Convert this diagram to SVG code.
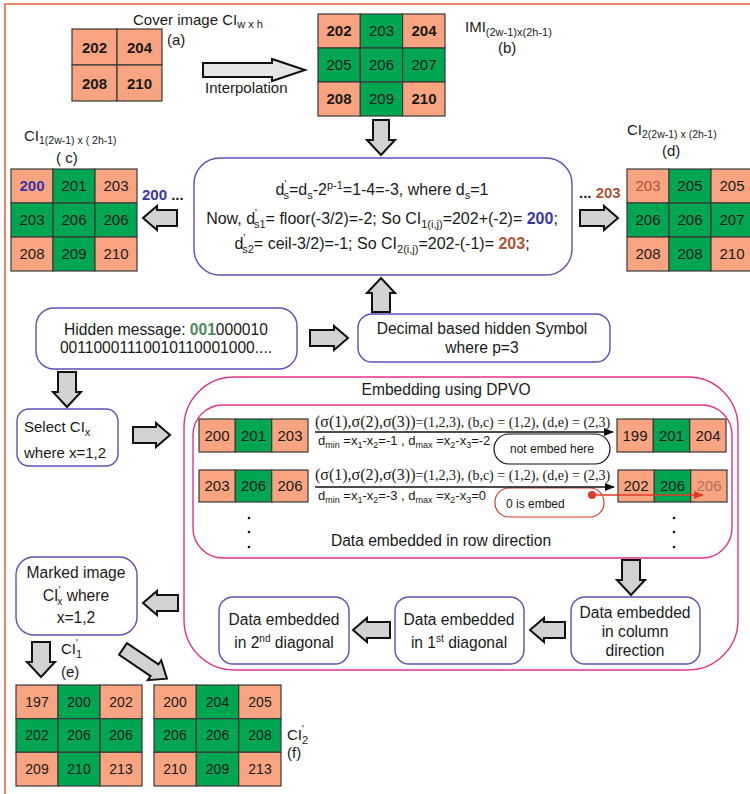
<svg xmlns="http://www.w3.org/2000/svg" width="750" height="794" viewBox="0 0 750 794">
<defs>
<style>
text{font-family:"Liberation Sans",Arial,sans-serif;fill:#1a1a1a}
.s{fill:#F9A480;stroke:#3a3a3a;stroke-width:1.2}
.g{fill:#00A651;stroke:#3a3a3a;stroke-width:1.2}
.c15{font-size:15px;text-anchor:middle}
.t{font-size:15.6px;text-anchor:middle}
.f{font-size:16px;text-anchor:middle}
.c14{font-size:14px;text-anchor:middle}
.b{font-weight:bold}
.lbl{font-size:15px}
.box{fill:#fff;stroke:#5B50B8;stroke-width:1.4}
.pink{fill:none;stroke:#E2338A;stroke-width:1.4}
.arr{fill:#D2D2D2;stroke:#111;stroke-width:2;stroke-linejoin:miter}
.ser{font-family:"Liberation Serif","Times New Roman",serif;font-size:14px}
.sm{font-size:13px}
.xs{font-size:12px}
.mid{text-anchor:middle}
</style>
<marker id="ab" viewBox="0 0 10 10" refX="9" refY="5" markerWidth="10" markerHeight="10" markerUnits="userSpaceOnUse" orient="auto"><path d="M0,1 L10,5 L0,9 z" fill="#111"/></marker>
<marker id="ar" viewBox="0 0 10 10" refX="9" refY="5" markerWidth="10" markerHeight="10" markerUnits="userSpaceOnUse" orient="auto"><path d="M0,1 L10,5 L0,9 z" fill="#E03A2A"/></marker>
</defs>
<rect width="750" height="794" fill="#fff"/>
<path d="M5,794 L5,4 L750,4" fill="none" stroke="#F08468" stroke-width="2"/>

<!-- (a) cover image -->
<g id="gridA">
<rect class="s" x="72" y="29" width="45" height="36"/><rect class="s" x="117" y="29" width="45" height="36"/>
<rect class="s" x="72" y="65" width="45" height="36"/><rect class="s" x="117" y="65" width="45" height="36"/>
<text class="c15 b" x="94.5" y="53">202</text><text class="c15 b" x="139.5" y="53">204</text>
<text class="c15 b" x="94.5" y="89">208</text><text class="c15 b" x="139.5" y="89">210</text>
<text class="lbl" x="133" y="25" font-size="16">Cover image CI<tspan font-size="11" dy="3">w x h</tspan></text>
<text class="lbl" x="167" y="45">(a)</text>
</g>

<!-- (b) IMI -->
<g id="gridB">
<rect class="s" x="318" y="14" width="42.3" height="34"/><rect class="g" x="360.3" y="14" width="42.3" height="34"/><rect class="s" x="402.6" y="14" width="42.4" height="34"/>
<rect class="g" x="318" y="48" width="42.3" height="34"/><rect class="g" x="360.3" y="48" width="42.3" height="34"/><rect class="g" x="402.6" y="48" width="42.4" height="34"/>
<rect class="s" x="318" y="82" width="42.3" height="34"/><rect class="g" x="360.3" y="82" width="42.3" height="34"/><rect class="s" x="402.6" y="82" width="42.4" height="34"/>
<text class="c15 b" x="339" y="36">202</text><text class="c15" x="381.5" y="36">203</text><text class="c15 b" x="424" y="36">204</text>
<text class="c15" x="339" y="70">205</text><text class="c15" x="381.5" y="70">206</text><text class="c15" x="424" y="70">207</text>
<text class="c15 b" x="339" y="104">208</text><text class="c15" x="381.5" y="104">209</text><text class="c15 b" x="424" y="104">210</text>
<text class="lbl" x="465" y="32" font-size="16">IMI<tspan font-size="11" dy="4">(2w-1)x(2h-1)</tspan></text>
<text class="lbl" x="498" y="53">(b)</text>
</g>

<!-- (c) -->
<g id="gridC">
<rect class="s" x="11" y="169" width="42" height="34"/><rect class="g" x="53" y="169" width="42" height="34"/><rect class="s" x="95" y="169" width="42" height="34"/>
<rect class="g" x="11" y="203" width="42" height="34"/><rect class="g" x="53" y="203" width="42" height="34"/><rect class="g" x="95" y="203" width="42" height="34"/>
<rect class="s" x="11" y="237" width="42" height="34"/><rect class="g" x="53" y="237" width="42" height="34"/><rect class="s" x="95" y="237" width="42" height="34"/>
<text class="c15 b" x="32" y="191" style="fill:#3B36A8">200</text><text class="c15" x="74" y="191">201</text><text class="c15" x="116" y="191">203</text>
<text class="c15" x="32" y="225">203</text><text class="c15" x="74" y="225">206</text><text class="c15" x="116" y="225">206</text>
<text class="c15" x="32" y="259">208</text><text class="c15" x="74" y="259">209</text><text class="c15" x="116" y="259">210</text>
<text class="lbl" x="24" y="141" font-size="16">CI<tspan font-size="10.5" dy="3">1(2w-1) x ( 2h-1)</tspan></text>
<text class="lbl" x="56" y="163">( c)</text>
</g>

<!-- (d) -->
<g id="gridD">
<rect class="s" x="627" y="169" width="42" height="34"/><rect class="g" x="669" y="169" width="42" height="34"/><rect class="s" x="711" y="169" width="42" height="34"/>
<rect class="g" x="627" y="203" width="42" height="34"/><rect class="g" x="669" y="203" width="42" height="34"/><rect class="g" x="711" y="203" width="42" height="34"/>
<rect class="s" x="627" y="237" width="42" height="34"/><rect class="g" x="669" y="237" width="42" height="34"/><rect class="s" x="711" y="237" width="42" height="34"/>
<text class="c15" x="648" y="191" style="fill:#A8553A">203</text><text class="c15" x="690" y="191">205</text><text class="c15" x="732" y="191">205</text>
<text class="c15" x="648" y="225">206</text><text class="c15" x="690" y="225">206</text><text class="c15" x="732" y="225">207</text>
<text class="c15" x="648" y="259">208</text><text class="c15" x="690" y="259">208</text><text class="c15" x="732" y="259">210</text>
<text class="lbl" x="627" y="135" font-size="16">CI<tspan font-size="10.5" dy="3">2(2w-1) x (2h-1)</tspan></text>
<text class="lbl" x="662" y="156">(d)</text>
</g>

<!-- formula box -->
<g id="formula">
<rect class="box" x="194" y="158" width="378" height="117" rx="26"/>
<text class="f" x="382" y="195">d<tspan font-size="10" dy="-7">'</tspan><tspan font-size="11" dx="-3" dy="11">s</tspan><tspan dy="-4">=d</tspan><tspan font-size="11" dy="4">s</tspan><tspan dy="-4">-2</tspan><tspan font-size="11" dy="-6">p-1</tspan><tspan dy="6">=1-4=-3, where  d</tspan><tspan font-size="11" dy="4">s</tspan><tspan dy="-4">=1</tspan></text>
<text class="f" x="382" y="224">Now, d<tspan font-size="10" dy="-7">'</tspan><tspan font-size="11" dx="-3" dy="11">s1</tspan><tspan dy="-4">= floor(-3/2)=-2; So  CI</tspan><tspan font-size="11" dy="4">1(i,j)</tspan><tspan dy="-4">=202+(-2)= </tspan><tspan font-weight="bold" style="fill:#3B36A8">200</tspan><tspan>;</tspan></text>
<text class="f" x="382" y="249">d<tspan font-size="10" dy="-7">'</tspan><tspan font-size="11" dx="-3" dy="11">s2</tspan><tspan dy="-4">= ceil-3/2)=-1; So  CI</tspan><tspan font-size="11" dy="4">2(i,j)</tspan><tspan dy="-4">=202-(-1)= </tspan><tspan font-weight="bold" style="fill:#A8553A">203</tspan><tspan>;</tspan></text>
</g>
<text class="lbl b" x="142" y="200" font-size="16" style="fill:#3B36A8">200<tspan style="fill:#222"> ...</tspan></text>
<text class="lbl b" x="579" y="198" font-size="16">... <tspan style="fill:#A8553A">203</tspan></text>

<!-- hidden message -->
<g id="hidden">
<rect class="box" x="36" y="308" width="261" height="61" rx="18"/>
<text class="t" x="166" y="335">Hidden message: <tspan font-weight="bold" style="fill:#4E8A55">001</tspan>000010</text>
<text class="t" x="166" y="353">00110001110010110001000....</text>
</g>

<g id="decimal">
<rect class="box" x="358" y="314" width="252" height="48" rx="14"/>
<text class="t" x="482" y="334">Decimal based hidden Symbol</text>
<text class="t" x="482" y="353">where p=3</text>
</g>

<g id="select">
<rect class="box" x="17" y="409" width="101" height="57" rx="12"/>
<text class="lbl" x="24" y="432" font-size="16">Select CI<tspan font-size="11" dy="4">x</tspan></text>
<text class="lbl" x="24" y="458" font-size="16">where x=1,2</text>
</g>

<!-- DPVO -->
<g id="dpvo">
<rect class="pink" x="184" y="377" width="554" height="293" rx="50"/>
<text class="t" x="446" y="395">Embedding using  DPVO</text>
<rect class="pink" x="193" y="405" width="539" height="153" rx="30"/>
<g id="row1">
<rect class="s" x="199" y="419" width="36.3" height="33"/><rect class="g" x="235.3" y="419" width="36.4" height="33"/><rect class="s" x="271.7" y="419" width="36.3" height="33"/>
<text class="c15" x="217" y="441">200</text><text class="c15" x="253.5" y="441">201</text><text class="c15" x="290" y="441">203</text>
<text class="ser" x="315" y="427"><tspan font-size="16">(σ(1),σ(2),σ(3))</tspan>=(1,2,3), (b,c) = (1,2), (d,e) = (2,3)</text>
<text class="sm" x="318" y="445">d<tspan font-size="9" dy="3">min</tspan><tspan dy="-3"> =x</tspan><tspan font-size="9" dy="3">1</tspan><tspan dy="-3">-x</tspan><tspan font-size="9" dy="3">2</tspan><tspan dy="-3">=-1 , d</tspan><tspan font-size="9" dy="3">max</tspan><tspan dy="-3"> =x</tspan><tspan font-size="9" dy="3">2</tspan><tspan dy="-3">-x</tspan><tspan font-size="9" dy="3">3</tspan><tspan dy="-3">=-2</tspan></text>
<rect x="494" y="434" width="116" height="30" rx="15" fill="#fff" stroke="#111" stroke-width="1.2"/>
<text class="xs mid" x="552" y="453">not embed here</text>
<rect class="s" x="617" y="419" width="36.3" height="33"/><rect class="g" x="653.3" y="419" width="36.4" height="33"/><rect class="s" x="689.7" y="419" width="36.3" height="33"/>
<text class="c15" x="635" y="441">199</text><text class="c15" x="671.5" y="441">201</text><text class="c15" x="708" y="441">204</text>
</g>
<g id="row2">
<rect class="s" x="199" y="470" width="36.3" height="32"/><rect class="g" x="235.3" y="470" width="36.4" height="32"/><rect class="s" x="271.7" y="470" width="36.3" height="32"/>
<text class="c15" x="217" y="491">203</text><text class="c15" x="253.5" y="491">206</text><text class="c15" x="290" y="491">206</text>
<text class="ser" x="315" y="480"><tspan font-size="16">(σ(1),σ(2),σ(3))</tspan>=(1,2,3), (b,c) = (1,2), (d,e) = (2,3)</text>
<text class="sm" x="318" y="500">d<tspan font-size="9" dy="3">min</tspan><tspan dy="-3"> =x</tspan><tspan font-size="9" dy="3">1</tspan><tspan dy="-3">-x</tspan><tspan font-size="9" dy="3">2</tspan><tspan dy="-3">=-3 , d</tspan><tspan font-size="9" dy="3">max</tspan><tspan dy="-3"> =x</tspan><tspan font-size="9" dy="3">2</tspan><tspan dy="-3">-x</tspan><tspan font-size="9" dy="3">3</tspan><tspan dy="-3">=0</tspan></text>
<rect x="495" y="488" width="109" height="29" rx="14" fill="#fff" stroke="#E03A2A" stroke-width="1.2"/>
<text class="xs" x="506" y="508">0 is embed</text>
<rect class="s" x="618" y="470" width="36.3" height="32"/><rect class="g" x="654.3" y="470" width="36.4" height="32"/><rect class="s" x="690.7" y="470" width="36.3" height="32"/>
<text class="c15" x="636" y="491">202</text><text class="c15" x="672.5" y="491">206</text><text class="c15" x="709" y="491" style="fill:#B0705A">206</text>
</g>
<g fill="#111"><circle cx="249" cy="518" r="1.3"/><circle cx="249" cy="532" r="1.3"/><circle cx="249" cy="547" r="1.3"/><circle cx="674" cy="518" r="1.3"/><circle cx="674" cy="532" r="1.3"/><circle cx="674" cy="547" r="1.3"/></g>
<text class="t" x="441" y="546">Data embedded in row  direction</text>
</g>

<g id="column">
<rect class="box" x="571" y="597" width="129" height="67" rx="14"/>
<text class="t" x="635" y="618">Data embedded</text>
<text class="t" x="635" y="637">in column</text>
<text class="t" x="635" y="656">direction</text>
</g>
<g id="diag1">
<rect class="box" x="395" y="597" width="129" height="67" rx="14"/>
<text class="t" x="459" y="625">Data embedded</text>
<text class="t" x="459" y="648">in 1<tspan font-size="10" dy="-6">st</tspan><tspan dy="6"> diagonal</tspan></text>
</g>
<g id="diag2">
<rect class="box" x="219" y="597" width="130" height="67" rx="14"/>
<text class="t" x="284" y="625">Data embedded</text>
<text class="t" x="284" y="648">in 2<tspan font-size="10" dy="-6">nd</tspan><tspan dy="6"> diagonal</tspan></text>
</g>

<g id="marked">
<rect class="box" x="16" y="557" width="121" height="78" rx="18"/>
<text class="t" x="76" y="578">Marked image</text>
<text class="t" x="76" y="601">CI<tspan font-size="10" dy="-7">'</tspan><tspan font-size="10" dx="-3" dy="11">x</tspan><tspan dy="-4"> where</tspan></text>
<text class="t" x="76" y="623">x=1,2</text>
</g>

<!-- (e) -->
<g id="gridE">
<rect class="s" x="16" y="685" width="42" height="33.7"/><rect class="g" x="58" y="685" width="42" height="33.7"/><rect class="s" x="100" y="685" width="42" height="33.7"/>
<rect class="g" x="16" y="718.7" width="42" height="33.6"/><rect class="g" x="58" y="718.7" width="42" height="33.6"/><rect class="g" x="100" y="718.7" width="42" height="33.6"/>
<rect class="s" x="16" y="752.3" width="42" height="33.7"/><rect class="g" x="58" y="752.3" width="42" height="33.7"/><rect class="s" x="100" y="752.3" width="42" height="33.7"/>
<text class="c14" x="37" y="707">197</text><text class="c14" x="79" y="707">200</text><text class="c14" x="121" y="707">202</text>
<text class="c14" x="37" y="740">202</text><text class="c14" x="79" y="740">206</text><text class="c14" x="121" y="740">206</text>
<text class="c14" x="37" y="774">209</text><text class="c14" x="79" y="774">210</text><text class="c14" x="121" y="774">213</text>
<text class="lbl" x="61" y="654">CI<tspan font-size="10" dy="-7">'</tspan><tspan font-size="11" dx="-2" dy="11">1</tspan></text>
<text class="lbl" x="61" y="677">(e)</text>
</g>

<!-- (f) -->
<g id="gridF">
<rect class="s" x="154" y="685" width="42.3" height="33.7"/><rect class="g" x="196.3" y="685" width="42.4" height="33.7"/><rect class="s" x="238.7" y="685" width="42.3" height="33.7"/>
<rect class="g" x="154" y="718.7" width="42.3" height="33.6"/><rect class="g" x="196.3" y="718.7" width="42.4" height="33.6"/><rect class="g" x="238.7" y="718.7" width="42.3" height="33.6"/>
<rect class="s" x="154" y="752.3" width="42.3" height="33.7"/><rect class="g" x="196.3" y="752.3" width="42.4" height="33.7"/><rect class="s" x="238.7" y="752.3" width="42.3" height="33.7"/>
<text class="c14" x="175" y="707">200</text><text class="c14" x="217.5" y="707">204</text><text class="c14" x="260" y="707">205</text>
<text class="c14" x="175" y="740">206</text><text class="c14" x="217.5" y="740">206</text><text class="c14" x="260" y="740">208</text>
<text class="c14" x="175" y="774">210</text><text class="c14" x="217.5" y="774">209</text><text class="c14" x="260" y="774">213</text>
<text class="lbl" x="287" y="740">CI<tspan font-size="10" dy="-7">'</tspan><tspan font-size="11" dx="-2" dy="11">2</tspan></text>
<text class="lbl" x="287" y="758">(f)</text>
</g>

<!-- connectors -->
<g id="connectors">
<path d="M203,63 L272,63 L272,59 L305,70 L272,81 L272,77 L203,77 Z" class="arr" style="fill:#E6E6E6"/>
<text class="lbl" x="205" y="93">Interpolation</text>
<path d="M373,120 L389,120 L389,140 L395,140 L381,155 L367,140 L373,140 Z" class="arr"/>
<path d="M177,210 L157,210 L157,206 L143,218 L157,230 L157,226 L177,226 Z" class="arr"/>
<path d="M580,210 L604,210 L604,206 L618,218 L604,230 L604,226 L580,226 Z" class="arr"/>
<path d="M372,312 L390,312 L390,293 L395,293 L381,278 L367,293 L372,293 Z" class="arr"/>
<path d="M310,330 L334,330 L334,326 L348,338 L334,350 L334,346 L310,346 Z" class="arr"/>
<path d="M58,372 L76,372 L76,392 L81,392 L67,407 L53,392 L58,392 Z" class="arr"/>
<path d="M133,427 L156,427 L156,423 L170,435 L156,447 L156,443 L133,443 Z" class="arr"/>
<path d="M622,560 L640,560 L640,580 L645,580 L631,595 L617,580 L622,580 Z" class="arr"/>
<path d="M565,622 L544,622 L544,618 L530,630 L544,642 L544,638 L565,638 Z" class="arr"/>
<path d="M390,622 L367,622 L367,618 L353,630 L367,642 L367,638 L390,638 Z" class="arr"/>
<path d="M178,595 L157,595 L157,591 L143,603 L157,615 L157,611 L178,611 Z" class="arr"/>
<path d="M32,642 L50,642 L50,662 L55,662 L41,677 L27,662 L32,662 Z" class="arr"/>
<path d="M0,-7 L38,-7 L38,-12 L53,0 L38,12 L38,7 L0,7 Z" class="arr" transform="translate(123,649) rotate(34)"/>
<line x1="315" y1="432" x2="613" y2="432" stroke="#111" stroke-width="1.3" marker-end="url(#ab)"/>
<line x1="315" y1="487" x2="614" y2="487" stroke="#111" stroke-width="1.3" marker-end="url(#ab)"/>
<circle cx="592" cy="495" r="4" fill="#E03A2A"/>
<line x1="592" y1="495" x2="703" y2="495" stroke="#E03A2A" stroke-width="1.3" marker-end="url(#ar)"/>
</g>
</svg>
